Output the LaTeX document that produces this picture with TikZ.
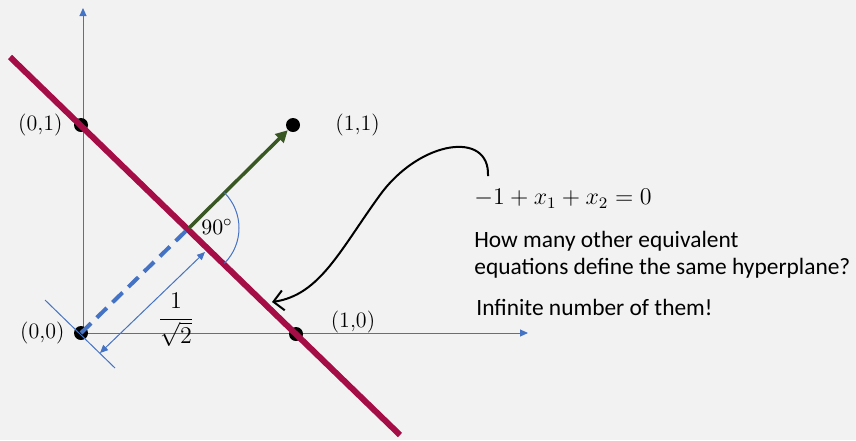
\documentclass[tikz,border=0pt]{standalone}
\usepackage{fontspec}
\newfontfamily\calfont{Carlito}
\usetikzlibrary{arrows.meta}
\definecolor{bgcol}{RGB}{242,242,242}
\definecolor{planered}{RGB}{165,13,70}
\definecolor{wgreen}{RGB}{56,87,35}
\definecolor{axblue}{RGB}{68,114,196}
\begin{document}
\begin{tikzpicture}[x=0.5pt,y=-0.5pt,>={Triangle[length=4pt,width=3.5pt]},font=\fontsize{11}{13}\selectfont,line join=round,
	pt/.style={circle,fill=black,inner sep=0pt,minimum size=7pt},
	axis/.style={axblue,line width=0.5pt},
	txt/.style={font=\calfont\fontsize{11.7}{13}\selectfont,anchor=west,inner sep=0pt}]
		\fill[bgcol] (0,0) rectangle (856,440);
		\coordinate (O) at (83,333);
		\coordinate (xtip) at (528,333);
		\coordinate (ytip) at (83,8);
		\draw[axis,->] (O) -- (ytip);
		\draw[axis,->] (O) -- (xtip);
		\node[pt] (p00) at (81,333) {};
		\node[pt] (p01) at (81,125) {};
		\node[pt] (p11) at (293,125) {};
		\node[pt] (p10) at (296,334) {};
		\node[left=1pt] at (p00.west) {(0,0)};
		\node[left=2pt] at (p01.west) {(0,1)};
		\node[right=14pt] at (p11.east) {(1,1)};
		\node at (353,322) {(1,0)};
		\coordinate (h1) at (10,57);
		\coordinate (h2) at (400,435);
		\draw[planered,line width=3pt] (h1) -- (h2);
		\coordinate (F) at (189,228);
		\draw[axblue,line width=2pt,dash pattern=on 7pt off 4pt] (p00.center) -- (F);
		\draw[wgreen,line width=1.75pt,->,>={Triangle[length=6pt,width=6pt]}] (F) -- (p11);
		\coordinate (t1) at (45,300);
		\coordinate (t2) at (115,368);
		\draw[axis] (t1) -- (t2);
		\coordinate (d1) at (100,353);
		\coordinate (d2) at (205,252);
		\draw[axis,<->] (d1) -- (d2);
		\draw[axis] (F) ++(-45:50) arc (-45:45:50);
		\node (ang) at (217,227) {$90^{\circ}$};
		\node[inner sep=0pt,font=\fontsize{13}{15}\selectfont] (len) at (176,320) {$\displaystyle\frac{1}{\sqrt{2}}$};
		\node[anchor=west,inner sep=0pt,font=\fontsize{12}{14}\selectfont] (eq) at (474,199) {$-1+x_1+x_2=0$};
		\node[txt] (q1) at (474,241) {How many other equivalent};
		\node[txt] (q2) at (474,268) {equations define the same hyperplane?};
		\node[txt] (ans) at (476,307) {Infinite number of them!};
		\coordinate (c0) at (488,176);
		\coordinate (c1) at (380,195);
		\coordinate (c2) at (272,302);
		\draw[line width=1pt,-{Straight Barb[length=5pt,width=10pt]}] (c0) .. controls (490,130) and (420,140) .. (c1) .. controls (340,250) and (320,295) .. (c2);
	\end{tikzpicture}
\end{document}
